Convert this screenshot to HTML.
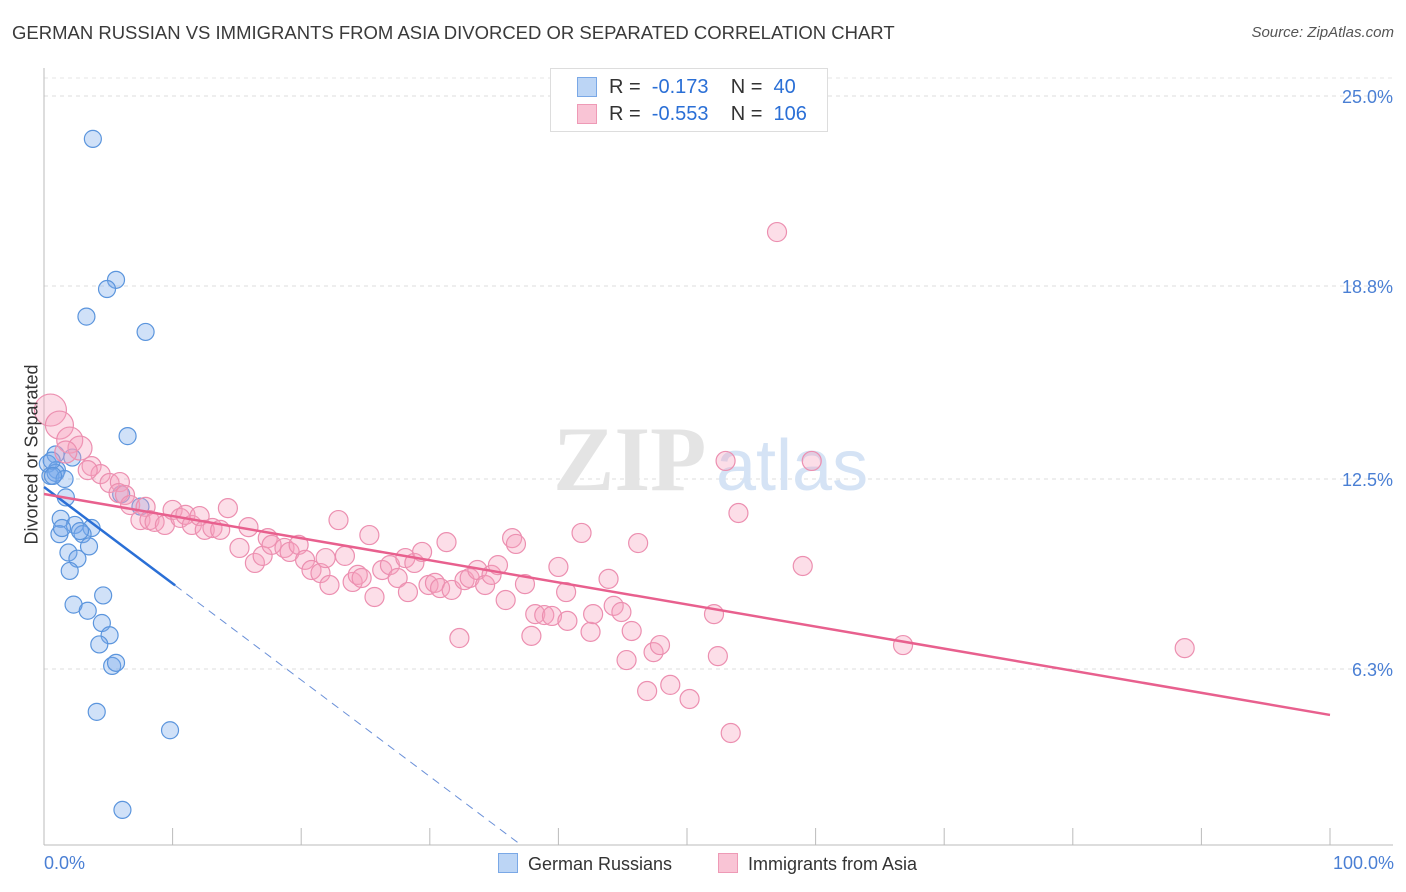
<!DOCTYPE html>
<html><head><meta charset="utf-8">
<style>
body{margin:0;background:#fff;font-family:"Liberation Sans",sans-serif;}
#wrap{position:relative;width:1406px;height:892px;overflow:hidden;}
.t{position:absolute;white-space:nowrap;}
</style></head>
<body>
<div id="wrap">
<div class="t" style="left:12px;top:22px;font-size:18.5px;color:#3a3a3a;">GERMAN RUSSIAN VS IMMIGRANTS FROM ASIA DIVORCED OR SEPARATED CORRELATION CHART</div>
<div class="t" style="right:12px;top:24px;font-size:15px;color:#555;font-style:italic;">Source: ZipAtlas.com</div>
<svg id="svg" width="1406" height="892" style="position:absolute;left:0;top:0"></svg>
</div>
<script>
const blueX=[3.8,5.6,4.9,3.3,7.9,6.5,0.9,2.2,0.3,1.0,0.5,0.9,1.6,1.7,6.0,7.5,1.3,2.4,3.7,1.2,3.0,3.5,1.9,2.6,2.0,4.6,2.3,3.4,4.5,5.1,4.3,5.3,5.6,4.1,9.8,6.1,0.6,0.7,2.8,1.4];
const blueY=[23.6,19.0,18.7,17.8,17.3,13.9,13.3,13.2,13.0,12.8,12.6,12.7,12.5,11.9,12.0,11.6,11.2,11.0,10.9,10.7,10.7,10.3,10.1,9.9,9.5,8.7,8.4,8.2,7.8,7.4,7.1,6.4,6.5,4.9,4.3,1.7,13.1,12.6,10.8,10.9];
const pinkX=[0.5,1.2,2.0,2.8,1.7,3.7,4.4,3.4,5.1,5.9,5.8,6.3,6.7,7.9,7.5,8.2,8.6,9.4,10.0,10.6,11.0,11.5,12.1,12.5,13.1,13.7,14.3,15.2,15.9,16.4,17.0,17.4,17.7,18.7,19.1,19.8,20.3,20.8,21.5,21.9,22.2,22.9,23.4,24.0,24.4,24.7,25.3,25.7,26.3,26.9,27.5,28.1,28.3,28.8,29.4,29.9,30.4,30.8,31.3,31.7,32.3,32.7,33.1,33.7,34.3,34.8,35.3,35.9,36.4,36.7,37.4,37.9,38.2,38.9,39.5,40.0,40.6,40.7,41.8,42.5,42.7,43.9,44.3,44.9,45.3,45.7,46.2,46.9,47.4,47.9,48.7,50.2,52.1,52.4,53.0,53.4,54.0,57.0,59.0,59.7,66.8,88.7];
const pinkY=[14.75,14.26,13.77,13.51,13.38,12.92,12.66,12.79,12.37,12.40,12.04,11.98,11.65,11.59,11.16,11.16,11.10,11.00,11.49,11.23,11.33,11.00,11.29,10.84,10.90,10.84,11.55,10.25,10.93,9.76,9.99,10.57,10.35,10.25,10.12,10.35,9.86,9.53,9.43,9.92,9.04,11.16,9.99,9.14,9.37,9.27,10.67,8.65,9.53,9.69,9.27,9.92,8.81,9.76,10.12,9.04,9.11,8.94,10.44,8.88,7.31,9.20,9.27,9.53,9.04,9.37,9.69,8.55,10.57,10.38,9.07,7.38,8.09,8.06,8.03,9.63,8.81,7.87,10.74,7.51,8.09,9.24,8.36,8.16,6.59,7.54,10.41,5.58,6.85,7.08,5.78,5.32,8.09,6.72,13.09,4.21,11.39,20.56,9.66,13.09,7.08,6.98];
const pinkR=[16,14,13,12,11];
const yTicks=[25.0,18.8,12.5,6.3];
const yTickLabels=["25.0%","18.8%","12.5%","6.3%"];
const blueFit=[12.24,-0.315];
const pinkFit=[12.01,-0.0721];

const NS="http://www.w3.org/2000/svg";
const svgEl=document.getElementById('svg');
const X=v=>44+v*12.86;
const Y=v=>862-v*30.64;
function mk(tag,attrs){const e=document.createElementNS(NS,tag);for(const k in attrs)e.setAttribute(k,attrs[k]);svgEl.appendChild(e);return e;}

yTicks.forEach((t,i)=>{
  const g=mk('line',{x1:44,x2:1393,y1:Y(t),y2:Y(t),stroke:'#ddd','stroke-dasharray':'4,4'});
  
  
  const tx=mk('text',{x:1393,y:Y(t)+7,'text-anchor':'end','font-size':18,fill:'#4a7fd4','font-family':'Liberation Sans'});
  tx.textContent=yTickLabels[i];
  
  
});
const topGrid=mk('line',{x1:44,x2:1393,y1:78,y2:78,stroke:'#e6e6e6','stroke-dasharray':'4,4'});


const ya=mk('line',{x1:44,x2:44,y1:68,y2:845,stroke:'#bbb'});


const xa=mk('line',{x1:44,x2:1393,y1:845,y2:845,stroke:'#bbb'});


for(let i=1;i<=10;i++){
  const tk=mk('line',{x1:X(i*10),x2:X(i*10),y1:828,y2:845,stroke:'#bbb'});
  
  
}
const wm=mk('text',{x:553,y:490,'font-size':92,fill:'#e4e4e4','font-family':'Liberation Serif','font-weight':'bold'});
wm.textContent='ZIP';


const wm2=mk('text',{x:716,y:490,'font-size':72,fill:'#d5e3f5','font-family':'Liberation Sans'});
wm2.textContent='atlas';



blueX.forEach((x,i)=>{
  const c=mk('circle',{cx:X(x),cy:Y(blueY[i]),r:8.5,fill:'rgba(120,170,235,0.35)',stroke:'#5b95dd','stroke-width':1.2});
  
  
});
pinkX.forEach((x,i)=>{
  const c=mk('circle',{cx:X(x),cy:Y(pinkY[i]),r:pinkR[i]||9.5,fill:'rgba(246,160,190,0.35)',stroke:'#ec8fb0','stroke-width':1.2});
  
  
});
const bEnd=10.2, bZero=(blueFit[0]-0.55)/-blueFit[1];
const bl=mk('line',{x1:X(0),y1:Y(blueFit[0]),x2:X(bEnd),y2:Y(blueFit[0]+blueFit[1]*bEnd),stroke:'#2a6fd6','stroke-width':2.5});


const bd=mk('line',{x1:X(bEnd),y1:Y(blueFit[0]+blueFit[1]*bEnd),x2:X(bZero),y2:Y(0.55),stroke:'#6a90d8','stroke-width':1,'stroke-dasharray':'8,6'});


const pl=mk('line',{x1:X(0),y1:Y(pinkFit[0]),x2:X(100),y2:Y(pinkFit[0]+pinkFit[1]*100),stroke:'#e8608e','stroke-width':2.5});


</script>
<div class="t" style="left:-58px;top:444px;font-size:18px;color:#333;transform:rotate(-90deg);">Divorced or Separated</div>
<div class="t" style="left:44px;top:853px;font-size:18px;color:#4a7fd4;">0.0%</div>
<div class="t" style="right:12px;top:853px;font-size:18px;color:#4a7fd4;">100.0%</div>
<div style="position:absolute;left:550px;top:68px;width:276px;height:62px;border:1px solid #ddd;background:#fff;font-size:20px;">
  <div style="position:absolute;left:26px;top:8px;width:18px;height:18px;background:#bcd5f5;border:1px solid #7aa8e6;"></div>
  <div class="t" style="left:58px;top:7px;color:#333;">R = &nbsp;<span style="color:#2a6fd6">-0.173</span>&nbsp;&nbsp;&nbsp; N = &nbsp;<span style="color:#2a6fd6">40</span></div>
  <div style="position:absolute;left:26px;top:35px;width:18px;height:18px;background:#f9c4d5;border:1px solid #ee9ab6;"></div>
  <div class="t" style="left:58px;top:34px;color:#333;">R = &nbsp;<span style="color:#2a6fd6">-0.553</span>&nbsp;&nbsp;&nbsp; N = &nbsp;<span style="color:#2a6fd6">106</span></div>
</div>
<div style="position:absolute;left:498px;top:853px;font-size:18px;color:#333;">
  <span style="display:inline-block;width:18px;height:18px;background:#bcd5f5;border:1px solid #7aa8e6;vertical-align:-3px;margin-right:10px;"></span>German Russians</div>
<div style="position:absolute;left:718px;top:853px;font-size:18px;color:#333;">
  <span style="display:inline-block;width:18px;height:18px;background:#f9c4d5;border:1px solid #ee9ab6;vertical-align:-3px;margin-right:10px;"></span>Immigrants from Asia</div>
</body></html>
